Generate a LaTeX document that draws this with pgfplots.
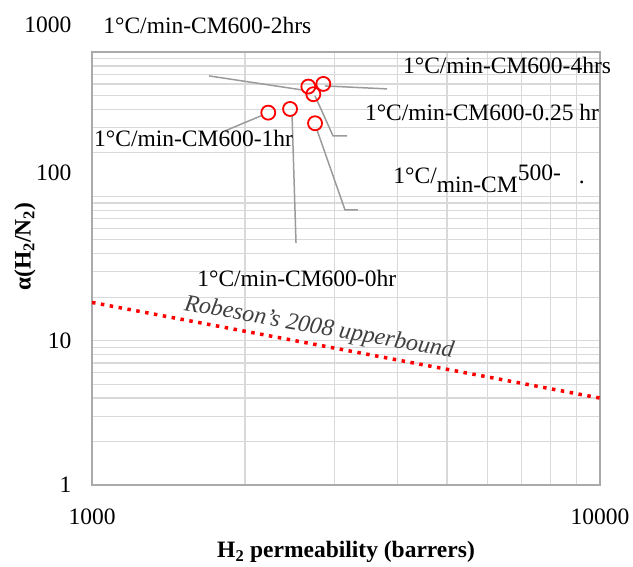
\documentclass[border=0pt]{standalone}
\usepackage{fontspec}
\setmainfont{Liberation Serif}
\usepackage{pgfplots}
\pgfplotsset{compat=1.18}
\definecolor{gridgray}{RGB}{217,217,217}
\definecolor{framegray}{RGB}{170,170,170}
\definecolor{leadergray}{RGB}{155,155,155}
\begin{document}
\begin{tikzpicture}[font=\fontsize{23.5}{27}\selectfont]
\useasboundingbox (-92pt,-82pt) rectangle (541pt,485pt);
\begin{axis}[
    at={(0,0)}, anchor=south west,
    scale only axis,
    width=508pt, height=433pt,
    xmode=log, ymode=log,
    xmin=1000, xmax=10000,
    ymin=1, ymax=1000,
    xtick={1000,10000},
    xticklabels={1000,10000},
    minor xtick={2000,3000,4000,5000,6000,7000,8000,9000},
    ytick={1,10,100,1000},
    yticklabels={1,10,\smash{\raisebox{16pt}{100}},\smash{\raisebox{19pt}{1000}}},
    minor ytick={2,3,4,5,6,7,8,9,20,30,40,50,60,70,80,90,200,300,400,500,600,700,800,900},
    grid=both,
    major grid style={gridgray, line width=1.2pt},
    minor grid style={gridgray, line width=1.2pt},
    major tick length=0pt, minor tick length=0pt,
    axis line style={framegray, line width=1.6pt},
    xticklabel style={anchor=center, yshift=-32pt},
    yticklabel style={anchor=east, xshift=-17pt},
    xlabel={\textbf{H\textsubscript{2} permeability (barrers)}},
    ylabel={\textbf{α(H\textsubscript{2}/N\textsubscript{2})}},
    xlabel style={at={(axis description cs:0.5,-0.155)}, anchor=center},
    ylabel style={at={(axis description cs:-0.132,0.55)}, anchor=center, rotate=0},
    clip=false,
]
% Robeson's 2008 upper bound
\addplot[red, line width=3.5pt, dash pattern=on 3.5pt off 5.5pt] coordinates {
    (1000,18.4) (10000,4.0)
};
% leader lines
\addplot[leadergray, line width=1.5pt] coordinates {(2591,546) (1699,683)};
\addplot[leadergray, line width=1.5pt] coordinates {(2875,582) (3808,555)};
\addplot[leadergray, line width=1.5pt] coordinates {(2748,496) (2982,262) (3177,262)};
\addplot[leadergray, line width=1.5pt] coordinates {(2151,361) (1827,284)};
\addplot[leadergray, line width=1.5pt] coordinates {(2476,367) (2521,47.5)};
\addplot[leadergray, line width=1.5pt] coordinates {(2773,288) (3148,80.5) (3339,80.5)};
% membranes
\addplot[only marks, mark=o, mark size=7pt, red, line width=1.8pt] coordinates {
    (2223,380)
    (2454,403)
    (2666,576)
    (2727,510)
    (2853,601)
    (2748,321)
};
\node[anchor=west, inner sep=0pt] at (rel axis cs:0.022,1.062) {1°C/min-CM600-2hrs};
\node[anchor=west, inner sep=0pt] at (rel axis cs:0.612,0.970) {1°C/min-CM600-4hrs};
\node[anchor=west, inner sep=0pt] at (rel axis cs:0.537,0.861) {1°C/min-CM600-0.25 hr};
\node[anchor=west, inner sep=0pt] at (rel axis cs:0.004,0.801) {1°C/min-CM600-1hr};
\node[anchor=west, inner sep=0pt] at (rel axis cs:0.207,0.478) {1°C/min-CM600-0hr};
\node[anchor=west, inner sep=0pt] at (rel axis cs:0.593,0.707) {1°C/\raisebox{-9pt}{min-CM}\raisebox{3pt}{500-}\hspace{18pt}.};
\node[rotate=-10, font=\fontsize{24}{28}\selectfont\itshape, text=black!75] at (rel axis cs:0.447,0.362) {Robeson's 2008 upperbound};
\end{axis}
\end{tikzpicture}
\end{document}
